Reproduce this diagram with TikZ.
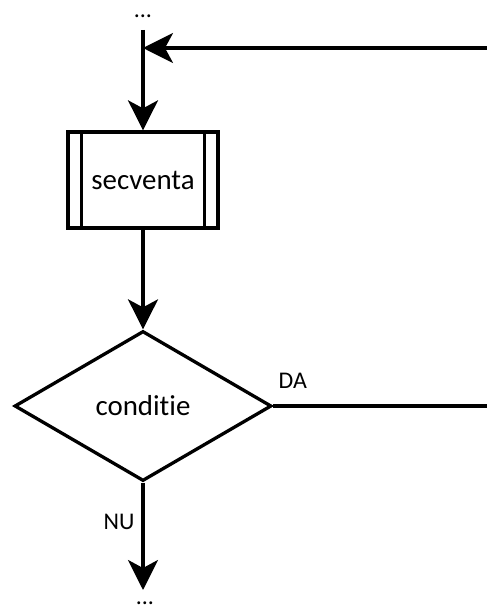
\documentclass[tikz,border=0pt]{standalone}
\usepackage{fontspec}
\setmainfont[Ligatures=NoCommon]{Carlito}
\usetikzlibrary{arrows.meta,shapes.geometric}
\begin{document}
\begin{tikzpicture}[x=1bp,y=-1bp,
  line width=3.3bp,
  flow/.style={-{Stealth[length=30bp,width=30bp,inset=8bp]}},
  procbox/.style={draw,minimum width=150bp,minimum height=96bp,inner sep=0pt,font=\fontsize{29}{31}\selectfont},
  decision/.style={draw,diamond,aspect=1.71,minimum width=257bp,minimum height=150bp,inner sep=0pt,font=\fontsize{29}{31}\selectfont},
  lbl/.style={font=\fontsize{24}{26}\selectfont,inner sep=0pt},
  dots/.style={font=\fontsize{24}{26}\selectfont,inner sep=0pt}]
\useasboundingbox (0,0) rectangle (487,612);

% nodes
\node[dots] (top) at (143,16) {...};
\coordinate (start) at (143,30);
\coordinate (join) at (143,48);
\coordinate (loopin) at (490,48);
\node[procbox] (seq) at (143,180) {secventa};
\draw ([xshift=15bp]seq.north west) -- ([xshift=15bp]seq.south west);
\draw ([xshift=-15bp]seq.north east) -- ([xshift=-15bp]seq.south east);
\node[decision] (cond) at (143,406) {conditie};
\coordinate (loopout) at (490,406);
\node[dots] (bot) at (145,603) {...};
\coordinate (exit) at (143,590);

% connectors
\draw[flow] (loopin) -- (join);
\draw[flow] (start) -- (seq.north);
\draw[flow] (seq.south) -- (cond.north);
\draw (cond.east) -- (loopout);
\draw[flow] (cond.south) -- (exit);

% labels
\node[lbl,anchor=west] (da) at (277,381) {DA};
\node[lbl,anchor=east] (nu) at (136,522) {NU};
\end{tikzpicture}
\end{document}
